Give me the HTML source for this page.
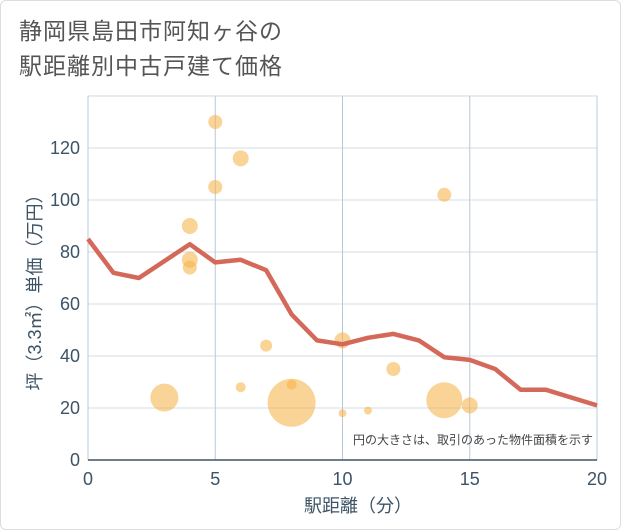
<!DOCTYPE html>
<html><head><meta charset="utf-8"><style>
body{margin:0;background:#fff;}
#wrap{position:relative;width:621px;height:530px;background:#fff;border:1px solid #ddd;box-sizing:border-box;border-radius:6px;overflow:hidden;font-family:"Liberation Sans","Noto Sans CJK JP",sans-serif;}
#title{position:absolute;left:18px;top:13px;font-size:23px;line-height:35px;color:#555;letter-spacing:1px;}
</style></head><body>
<div id="wrap">
<div id="title">静岡県島田市阿知ヶ谷の<br>駅距離別中古戸建て価格</div>
<svg id="chart" width="621" height="530" style="position:absolute;left:0;top:0"></svg>
</div>
<script>
const xTicks=[0,5,10,15,20];
const yTicks=[0,20,40,60,80,100,120];
const lineX=[0,1,2,3,4,5,6,7,8,9,10,11,12,13,14,15,16,17,18,19,20];
const lineY=[85,72,70,76.5,83,76,77,73,56,46,44.5,47,48.5,46,39.5,38.5,35,27,27,24,21];
const bubX=[5,6,5,4,4,4,14,10,7,12,6,8,3,8,14,15,10,11];
const bubY=[130,116,105,90,77,74,102,46,44,35,28,29,24,22,23,21,18,19];
const bubS=[7,8,7,8,8,7,7,8,6,7,5,5,14,24,18,8,4,4];
const NS="http://www.w3.org/2000/svg";
const svg=document.getElementById('chart');
const L=87,R=596,T=95,B=459;
const sx=v=>L+(v-0)/(20-0)*(R-L);
const sy=v=>B-v/120*(B-147);
function mk(t,a){const e=document.createElementNS(NS,t);for(const k in a)e.setAttribute(k,a[k]);svg.appendChild(e);return e;}
let bg=mk('rect',{x:L,y:T,width:R-L,height:B-T,fill:'#fff',stroke:'#d0d8e0'});


yTicks.forEach(v=>{
 let g=mk('line',{x1:L,x2:R,y1:sy(v),y2:sy(v),stroke:'#d3dde6'});
 
 
 let t=mk('text',{x:L-8,y:sy(v)+6,'text-anchor':'end','font-size':18,fill:'#3d5366'});t.textContent=v;
 
 
});
xTicks.forEach(v=>{
 let g=mk('line',{x1:sx(v),x2:sx(v),y1:T,y2:B,stroke:'#b8c8d8'});
 
 
 let t=mk('text',{x:sx(v),y:B+25,'text-anchor':'middle','font-size':18,fill:'#3d5366'});t.textContent=v;
 
 
});
let ax=mk('line',{x1:L,x2:R,y1:B,y2:B,stroke:'#3d5366','stroke-width':1.5});


bubX.forEach((x,i)=>{
 let c=mk('circle',{cx:sx(x),cy:sy(bubY[i]),r:bubS[i],fill:'#f5b041','fill-opacity':0.55});
 
 
});
let p=mk('polyline',{points:lineX.map((x,i)=>sx(x)+','+sy(lineY[i])).join(' '),fill:'none',stroke:'#d4695a','stroke-width':4.5,'stroke-linejoin':'round'});


let n=mk('text',{x:R-4,y:B-16,'text-anchor':'end','font-size':12,fill:'#444'});n.textContent='円の大きさは、取引のあった物件面積を示す';


let xt=mk('text',{x:357,y:511,'text-anchor':'middle','font-size':18,fill:'#3d5366'});xt.textContent='駅距離（分）';


let yt=mk('text',{x:0,y:0,'text-anchor':'middle','font-size':18,fill:'#3d5366',transform:`translate(40,${(T+B)/2+10}) rotate(-90)`});yt.textContent='坪（3.3㎡）単価（万円）';


</script>
</body></html>
